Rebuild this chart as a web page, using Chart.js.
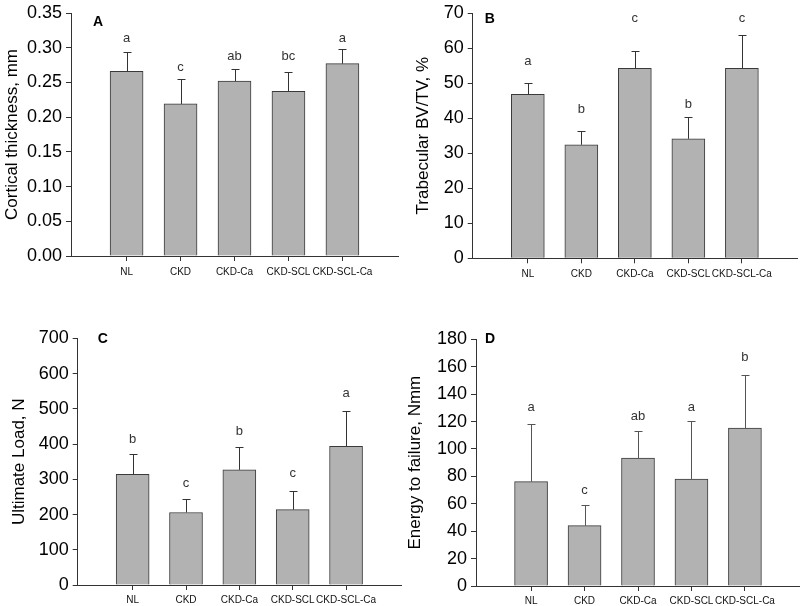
<!DOCTYPE html>
<html>
<head>
<meta charset="utf-8">
<script src="https://cdn.jsdelivr.net/npm/chart.js@4/dist/chart.umd.min.js"></script>
<style>
  html, body { margin: 0; padding: 0; background: #fff; }
  body { width: 800px; height: 606px; position: relative; overflow: hidden; }
  canvas { position: absolute; }
</style>
</head>
<body>
<canvas id="cA" width="400" height="300" style="left:0;top:0"></canvas>
<canvas id="cB" width="400" height="300" style="left:400px;top:0"></canvas>
<canvas id="cC" width="405" height="306" style="left:0;top:300px"></canvas>
<canvas id="cD" width="400" height="306" style="left:400px;top:300px"></canvas>
<script>
// ---------- data ----------
const CATEGORIES = ['NL', 'CKD', 'CKD-Ca', 'CKD-SCL', 'CKD-SCL-Ca'];

// Panel A: Cortical thickness, mm
const A_MEAN   = [0.266, 0.219, 0.252, 0.237, 0.277];
const A_ERR    = [0.028, 0.036, 0.017, 0.028, 0.021];
const A_SIG    = ['a', 'c', 'ab', 'bc', 'a'];
const A_SIG_AT = [0.313, 0.272, 0.287, 0.287, 0.313];
const A_YTICKS = [0, 0.05, 0.10, 0.15, 0.20, 0.25, 0.30, 0.35];

// Panel B: Trabecular BV/TV, %
const B_MEAN   = [46.8, 32.4, 54.2, 34.1, 54.2];
const B_ERR    = [3.3, 4.0, 4.9, 6.1, 9.5];
const B_SIG    = ['a', 'b', 'c', 'b', 'c'];
const B_SIG_AT = [56.1, 42.6, 68.4, 44.0, 68.4];
const B_YTICKS = [0, 10, 20, 30, 40, 50, 60, 70];

// Panel C: Ultimate Load, N
const C_MEAN   = [314, 206, 327, 214, 394];
const C_ERR    = [58, 38, 64, 54, 100];
const C_SIG    = ['b', 'c', 'b', 'c', 'a'];
const C_SIG_AT = [413, 289, 437, 317, 545];
const C_YTICKS = [0, 100, 200, 300, 400, 500, 600, 700];

// Panel D: Energy to failure, Nmm
const D_MEAN   = [76.1, 44.0, 93.4, 78.1, 115.3];
const D_ERR    = [42.1, 15.3, 19.9, 42.1, 38.9];
const D_SIG    = ['a', 'c', 'ab', 'a', 'b'];
const D_SIG_AT = [130.4, 70.0, 123.5, 130.4, 166.9];
const D_YTICKS = [0, 20, 40, 60, 80, 100, 120, 140, 160, 180];

// ---------- rendering ----------
const FONT = '"Liberation Sans", Arial, Helvetica, sans-serif';
Chart.defaults.font.family = FONT;
Chart.defaults.color = '#000';

function makePanel(id, tag, title, mean, err, sig, sigAt, yticks, fmt, lay) {
  const canvas = document.getElementById(id);
  const W = canvas.width, H = canvas.height;
  const overlay = {
    id: 'overlay_' + id,
    afterDatasetsDraw(chart) {
      const ctx = chart.ctx, xs = chart.scales.x, ys = chart.scales.y;
      ctx.save();
      ctx.strokeStyle = lay.errColor;
      ctx.lineWidth = 1;
      mean.forEach((m, i) => {
        const x = Math.round(xs.getPixelForValue(i)) + 0.5;
        const y0 = ys.getPixelForValue(m);
        const y1 = Math.round(ys.getPixelForValue(m + err[i])) + 0.5;
        ctx.beginPath();
        ctx.moveTo(x, y0); ctx.lineTo(x, y1);
        ctx.moveTo(x - 4, y1); ctx.lineTo(x + 4, y1);
        ctx.stroke();
      });
      ctx.fillStyle = '#333';
      ctx.font = '13px ' + FONT;
      ctx.textAlign = 'center';
      ctx.textBaseline = 'middle';
      sig.forEach((s, i) => ctx.fillText(s, xs.getPixelForValue(i), ys.getPixelForValue(sigAt[i])));
      ctx.fillStyle = '#000';
      ctx.font = 'bold 14px ' + FONT;
      ctx.fillText(tag, chart.chartArea.left + lay.tagDx, chart.chartArea.top + lay.tagDy);
      ctx.restore();
    }
  };
  return new Chart(canvas, {
    type: 'bar',
    data: {
      datasets: [{
        data: mean.map((v, i) => ({ x: i, y: v })),
        backgroundColor: '#b2b2b2',
        borderColor: '#3a3a3a',
        borderWidth: 1,
        barThickness: 33
      }]
    },
    options: {
      responsive: false,
      animation: false,
      events: [],
      layout: { padding: { top: lay.top, right: W - lay.right, left: 0, bottom: 0 } },
      plugins: { legend: { display: false }, tooltip: { enabled: false } },
      scales: {
        x: {
          type: 'linear',
          min: -1.03, max: 5.03,
          offset: false,
          afterBuildTicks: s => { s.ticks = CATEGORIES.map((_, i) => ({ value: i })); },
          afterFit: s => { s.height = H - lay.bottom; },
          ticks: {
            autoSkip: false, maxRotation: 0, minRotation: 0, padding: lay.xPad,
            font: { size: 10, lineHeight: 1 }, color: '#111',
            callback: (v, i) => CATEGORIES[i]
          },
          grid: { offset: false, drawOnChartArea: false, drawTicks: true, tickLength: 5, color: '#333' },
          border: { display: true, color: '#333', width: 1 }
        },
        y: {
          min: yticks[0], max: yticks[yticks.length - 1],
          afterBuildTicks: s => { s.ticks = yticks.map(v => ({ value: v })); },
          afterFit: s => { s.width = lay.left; },
          ticks: {
            padding: 4, font: { size: 18, lineHeight: 1 }, color: '#000',
            callback: v => fmt(v)
          },
          grid: { drawOnChartArea: false, drawTicks: true, tickLength: 5, color: '#333' },
          border: { display: true, color: '#333', width: 1 },
          title: {
            display: true, text: title, color: '#000',
            font: { size: 17, lineHeight: 1.2 },
            padding: { top: lay.titlePad, bottom: 0 }
          }
        }
      }
    },
    plugins: [overlay]
  });
}

const f2 = v => v.toFixed(2);
const f0 = v => String(Math.round(v));

makePanel('cA', 'A', 'Cortical thickness, mm', A_MEAN, A_ERR, A_SIG, A_SIG_AT, A_YTICKS, f2,
  { left: 71, right: 398, top: 10, bottom: 256, titlePad: 2, tagDx: 27, tagDy: 9, errColor: '#333', xPad: 6 });
makePanel('cB', 'B', 'Trabecular BV/TV, %', B_MEAN, B_ERR, B_SIG, B_SIG_AT, B_YTICKS, f0,
  { left: 72.7, right: 397, top: 11.7, bottom: 258.3, titlePad: 13, tagDx: 17, tagDy: 6, errColor: '#333', xPad: 6 });
makePanel('cC', 'C', 'Ultimate Load, N', C_MEAN, C_ERR, C_SIG, C_SIG_AT, C_YTICKS, f0,
  { left: 77.7, right: 401, top: 38.5, bottom: 285, titlePad: 9, tagDx: 25, tagDy: 1, errColor: '#333', xPad: 5 });
makePanel('cD', 'D', 'Energy to failure, Nmm', D_MEAN, D_ERR, D_SIG, D_SIG_AT, D_YTICKS, f0,
  { left: 76, right: 400, top: 39.3, bottom: 286, titlePad: 5, tagDx: 14, tagDy: 0, errColor: '#555', xPad: 5 });
</script>
</body>
</html>
